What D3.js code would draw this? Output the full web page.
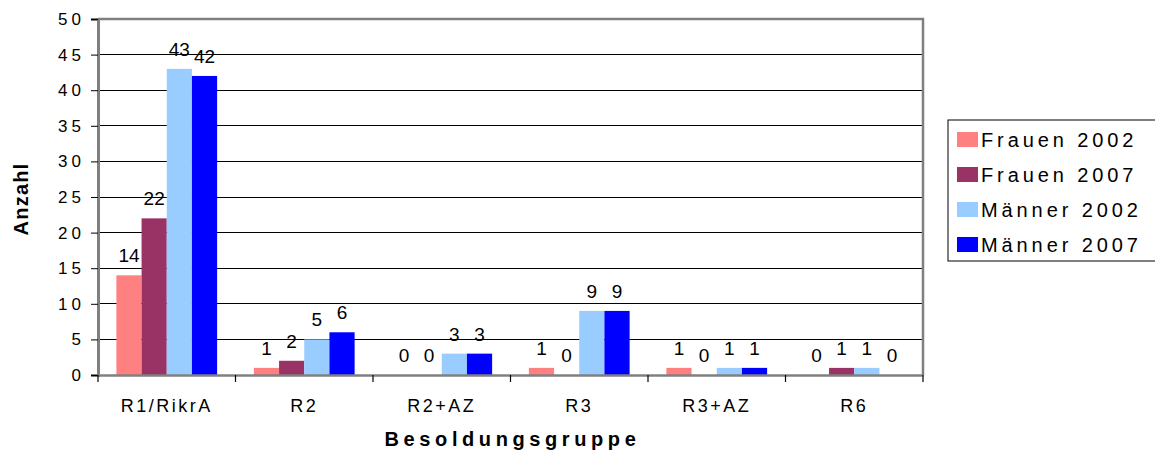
<!DOCTYPE html>
<html>
<head>
<meta charset="utf-8">
<script src="https://cdn.jsdelivr.net/npm/d3@7"></script>
<style>
  body { margin: 0; background: #fff; }
  svg text { font-family: "Liberation Sans", Arial, sans-serif; fill: #000; }
</style>
</head>
<body>
<svg id="chart" width="1155" height="450"></svg>
<script>
const categories = ["R1/RikrA", "R2", "R2+AZ", "R3", "R3+AZ", "R6"];
const seriesNames = ["Frauen 2002", "Frauen 2007", "Männer 2002", "Männer 2007"];
const frauen2002 = [14, 1, 0, 1, 1, 0];
const frauen2007 = [22, 2, 0, 0, 0, 1];
const maenner2002 = [43, 5, 3, 9, 1, 1];
const maenner2007 = [42, 6, 3, 9, 1, 0];
const yTicks = [0, 5, 10, 15, 20, 25, 30, 35, 40, 45, 50];
const colors = ["#FF8080", "#993366", "#99CCFF", "#0000FF"];

const series = [frauen2002, frauen2007, maenner2002, maenner2007];

const svg = d3.select("#chart");
const plot = { left: 98, right: 923, top: 19, bottom: 375 };

const x = d3.scaleBand().domain(categories).range([plot.left, plot.right]);
const x1 = d3.scaleBand().domain(seriesNames).range([0, x.bandwidth()]).paddingOuter(0.73);
const y = d3.scaleLinear().domain([0, 50]).range([plot.bottom, plot.top]);

// gridlines
svg.append("g")
  .selectAll("line")
  .data(yTicks.filter(d => d > 0 && d < 50))
  .enter().append("line")
  .attr("x1", plot.left).attr("x2", plot.right)
  .attr("y1", d => y(d)).attr("y2", d => y(d))
  .attr("stroke", "#000").attr("stroke-width", 1).attr("shape-rendering", "crispEdges");

// top and right border
svg.append("path")
  .attr("d", `M${plot.left},${plot.top} H${plot.right} V${plot.bottom}`)
  .attr("fill", "none").attr("stroke", "#808080").attr("stroke-width", 2.5);

// bars
const groups = svg.append("g").selectAll("g")
  .data(categories)
  .enter().append("g")
  .attr("transform", d => `translate(${x(d)},0)`);

groups.selectAll("rect")
  .data((c, i) => series.map((s, j) => ({ name: seriesNames[j], value: s[i], color: colors[j] })))
  .enter().append("rect")
  .attr("x", d => x1(d.name))
  .attr("width", x1.bandwidth())
  .attr("y", d => y(d.value))
  .attr("height", d => y(0) - y(d.value))
  .attr("fill", d => d.color);

groups.selectAll("text")
  .data((c, i) => series.map((s, j) => ({ name: seriesNames[j], value: s[i] })))
  .enter().append("text")
  .attr("x", d => x1(d.name) + x1.bandwidth() / 2)
  .attr("y", d => y(d.value) - 13)
  .attr("text-anchor", "middle")
  .style("font-size", "19px")
  .text(d => d.value);

// y axis
const yAxis = svg.append("g")
  .attr("transform", `translate(${plot.left},0)`)
  .call(d3.axisLeft(y).tickValues(yTicks).tickSize(7).tickPadding(6).tickFormat(d => d));
yAxis.select(".domain").attr("stroke", "#808080").attr("stroke-width", 3);
yAxis.selectAll(".tick line").attr("stroke", "#000");
yAxis.selectAll(".tick text")
  .style("font-size", "17px").style("letter-spacing", "4px")
  .attr("font-family", null);

// x axis
const xAxis = svg.append("g")
  .attr("transform", `translate(0,${plot.bottom})`)
  .call(d3.axisBottom(x).tickSize(0).tickPadding(24));
xAxis.select(".domain").attr("stroke", "#808080").attr("stroke-width", 2.5);
xAxis.selectAll(".tick text")
  .style("font-size", "18px").style("letter-spacing", "2.5px")
  .attr("font-family", null);

// category boundary ticks
svg.append("g").selectAll("line")
  .data(categories.concat(["end"]))
  .enter().append("line")
  .attr("x1", (d, i) => i < categories.length ? x(d) : plot.right)
  .attr("x2", (d, i) => i < categories.length ? x(d) : plot.right)
  .attr("y1", plot.bottom).attr("y2", plot.bottom + 7)
  .attr("stroke", "#000").attr("stroke-width", 1.2);

// axis titles
svg.append("text")
  .attr("x", (plot.left + plot.right) / 2 + 2)
  .attr("y", 446)
  .attr("text-anchor", "middle")
  .style("font-size", "20px").style("font-weight", "bold").style("letter-spacing", "4.6px")
  .text("Besoldungsgruppe");

svg.append("text")
  .attr("transform", `translate(28,${(plot.top + plot.bottom) / 2 + 2}) rotate(-90)`)
  .attr("text-anchor", "middle")
  .style("font-size", "20px").style("font-weight", "bold").style("letter-spacing", "1.2px")
  .text("Anzahl");

// legend
const legend = svg.append("g").attr("transform", "translate(948,120)");
legend.append("rect")
  .attr("width", 210).attr("height", 141)
  .attr("fill", "#fff").attr("stroke", "#000").attr("stroke-width", 1);

const items = legend.selectAll("g.item")
  .data(seriesNames)
  .enter().append("g")
  .attr("transform", (d, i) => `translate(9,${19 + i * 35})`);

items.append("rect")
  .attr("y", -7).attr("width", 21).attr("height", 15)
  .attr("fill", (d, i) => colors[i]);

items.append("text")
  .attr("x", 24).attr("y", 8)
  .style("font-size", "20px").style("letter-spacing", "3.9px")
  .text(d => d);
</script>
</body>
</html>
